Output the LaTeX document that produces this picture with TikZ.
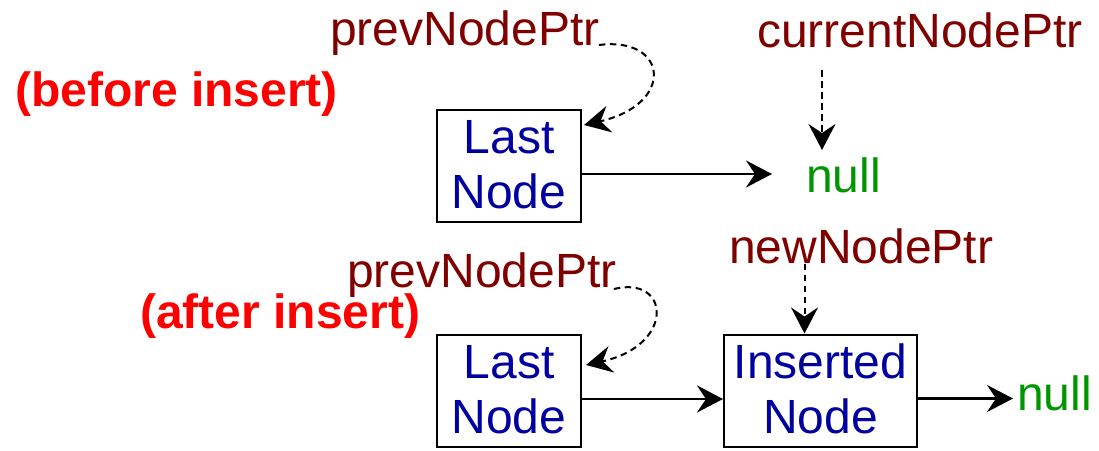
\documentclass[tikz,border=0pt]{standalone}
\usepackage{fontspec}
\setmainfont{Liberation Sans}
\usetikzlibrary{arrows.meta}
\definecolor{ptrred}{RGB}{128,0,0}
\definecolor{nodeblue}{RGB}{0,0,160}
\definecolor{nullgreen}{RGB}{0,150,0}
\begin{document}
\begin{tikzpicture}[x=1pt,y=-1pt,
  every node/.style={font=\fontsize{48}{50}\selectfont},
  lbl/.style={inner sep=0pt, anchor=base west},
  ptrlbl/.style={lbl, text=ptrred},
  statelbl/.style={lbl, text=red, font=\fontsize{48}{50}\selectfont\bfseries},
  nulllbl/.style={lbl, text=nullgreen},
  listbox/.style={draw=black, line width=2pt, text=nodeblue, align=center,
    font=\fontsize{48}{55}\selectfont,
    minimum height=112pt, inner sep=0pt, text depth=3pt},
  tip/.style={-{Stealth[length=26pt,width=27pt,inset=9pt]}},
  link/.style={tip, line width=2.8pt},
  ptr/.style={tip, line width=2pt, dash pattern=on 6.5pt off 4.5pt}
]
\useasboundingbox (0,0) rectangle (1099,450);

% before insert
\node[ptrlbl] (prevA) at (330,45) {prevNodePtr};
\node[statelbl] (before) at (15,106) {(before insert)};
\node[ptrlbl] (currA) at (757,47) {currentNodePtr};
\node[listbox, minimum width=144pt] (lastA) at (509,166) {Last\\Node};
\node[nulllbl] (nullA) at (806,192) {null};
\coordinate (currStart) at (822,70);
\coordinate (currEnd) at (822,150);

\draw[link, shorten >=34pt] ([yshift=-8pt]lastA.east) -- ([yshift=-8pt]lastA.east -| nullA.west);
\draw[ptr] (currStart) -- (currEnd);
\draw[ptr] ([xshift=-1pt]prevA.base east) .. controls (668,36) and (676,104) .. ([xshift=2pt,yshift=-16pt]lastA.north east);

% after insert
\node[ptrlbl] (newB) at (729,263) {newNodePtr};
\node[ptrlbl] (prevB) at (347,287) {prevNodePtr};
\node[statelbl] (after) at (140,328) {(after insert)};
\node[listbox, minimum width=144pt] (lastB) at (509,391) {Last\\Node};
\node[listbox, minimum width=193pt] (ins) at (820.5,390.5) {Inserted\\Node};
\node[nulllbl] (nullB) at (1017,410) {null};

\draw[link] ([yshift=-8pt]lastB.east) -- ([yshift=-8pt]lastB.east -| ins.west);
\draw[link, shorten >=4pt] ([yshift=-8pt]ins.east) -- ([yshift=-8pt]ins.east -| nullB.west);
\draw[ptr] ([xshift=-16pt]ins.north |- newB.south) -- ([xshift=-16pt]ins.north);
\draw[ptr] ([xshift=-3pt,yshift=-2pt]prevB.base east) .. controls (670,275) and (676,345) .. ([xshift=4pt,yshift=-31pt]lastB.north east);
\end{tikzpicture}
\end{document}
